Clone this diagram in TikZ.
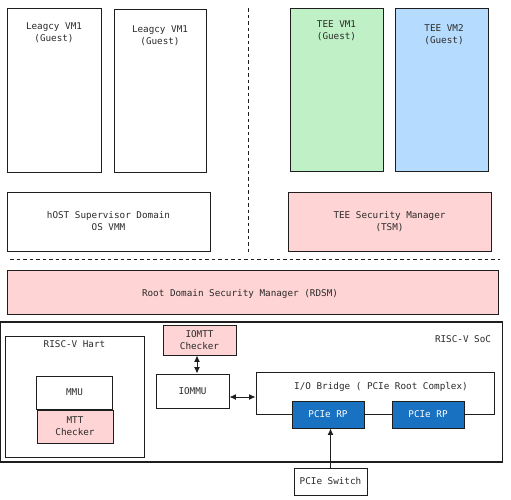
\documentclass[tikz,border=0pt]{standalone}
\usepackage{fontspec}
\setmonofont{DejaVu Sans Mono}
\usetikzlibrary{arrows.meta}
\definecolor{ink}{HTML}{1E1E1E}
\definecolor{txt}{HTML}{2A2A2A}
\definecolor{grn}{HTML}{C0F0C5}
\definecolor{blu}{HTML}{B5DCFF}
\definecolor{pnk}{HTML}{FFD4D4}
\definecolor{rpblue}{HTML}{1971C2}
\tikzset{
  box/.style={draw=ink, line width=0.9pt, inner sep=0pt, font=\ttfamily\fontsize{9.3}{12}\selectfont, text=txt, align=center},
  lbl/.style={inner sep=0pt, font=\ttfamily\fontsize{9.3}{12}\selectfont, text=txt, align=center},
  rp/.style={box, fill=rpblue, text=white},
  dashline/.style={draw=ink, line width=0.8pt, dash pattern=on 3.5pt off 3pt},
  arr/.style={draw=ink, line width=1pt, {Latex[length=6.5pt,width=6pt]}-{Latex[length=6.5pt,width=6pt]}},
  onearr/.style={draw=ink, line width=1pt, -{Latex[length=6.5pt,width=6pt]}}
}
\begin{document}
\begin{tikzpicture}[x=1pt,y=-1pt]
\useasboundingbox (0,0) rectangle (511,499);
% top guests
\node[box, minimum width=94, minimum height=164] (leg1) at (54,90) {};
\node[lbl] (leg1t) at (54,33) {Leagcy VM1\\(Guest)};
\node[box, minimum width=92, minimum height=163] (leg2) at (160,90.5) {};
\node[lbl] (leg2t) at (160,36) {Leagcy VM1\\(Guest)};
\node[box, fill=grn, minimum width=93, minimum height=163] (tee1) at (336.5,89.5) {};
\node[lbl] (tee1t) at (336.5,31) {TEE VM1\\(Guest)};
\node[box, fill=blu, minimum width=93, minimum height=163] (tee2) at (441.5,89.5) {};
\node[lbl] (tee2t) at (444,35) {TEE VM2\\(Guest)};
% domains
\node[box, minimum width=203, minimum height=59] (host) at (108.5,221.5) {hOST Supervisor Domain\\OS VMM};
\node[box, fill=pnk, minimum width=203, minimum height=59] (tsm) at (389.5,221.5) {TEE Security Manager\\(TSM)};
% dashed separators
\coordinate (vtop) at (248,8);
\coordinate (vbot) at (248,255);
\coordinate (hl) at (10,259);
\coordinate (hr) at (500,259);
\draw[dashline] (vtop) -- (vbot);
\draw[dashline] (hl) -- (hr);
% RDSM
\node[box, fill=pnk, minimum width=491, minimum height=44] (rdsm) at (252.5,292) {};
\node[lbl] (rdsmt) at (240,294) {Root Domain Security Manager (RDSM)};
% SoC
\node[box, line width=1.2pt, minimum width=502, minimum height=140] (soc) at (251.5,392) {};
\node[lbl] (soct) at (463,339) {RISC-V SoC};
% Hart
\node[box, minimum width=139, minimum height=121] (hart) at (74.5,396.5) {};
\node[lbl] (hartt) at (74.5,344) {RISC-V Hart};
\node[box, minimum width=76, minimum height=33] (mmu) at (74.5,392.5) {MMU};
\node[box, fill=pnk, minimum width=76, minimum height=33] (mtt) at (75,426.5) {MTT\\Checker};
% IOMMU
\node[box, fill=pnk, minimum width=73, minimum height=30] (iomtt) at (199.5,340) {IOMTT\\Checker};
\node[box, minimum width=73, minimum height=34] (iommu) at (192.5,391) {IOMMU};
% Bridge
\node[box, minimum width=238, minimum height=42] (bridge) at (375,393) {};
\node[lbl] (bridget) at (381,387) {I/O Bridge ( PCIe Root Complex)};
\node[rp, minimum width=72, minimum height=27] (rp1) at (328,414.5) {PCIe RP};
\node[rp, minimum width=72, minimum height=27] (rp2) at (428,414.5) {PCIe RP};
\node[box, minimum width=73, minimum height=27] (sw) at (330.5,481.5) {PCIe Switch};
% connectors
\draw[arr] (iomtt.south -| 197,0) -- (iommu.north -| 197,0);
\draw[arr] ([yshift=-6pt]iommu.east) -- ([yshift=-6pt]iommu.east -| bridge.west);
\draw[onearr] (sw.north) -- (sw.north |- rp1.south);
\end{tikzpicture}
\end{document}
